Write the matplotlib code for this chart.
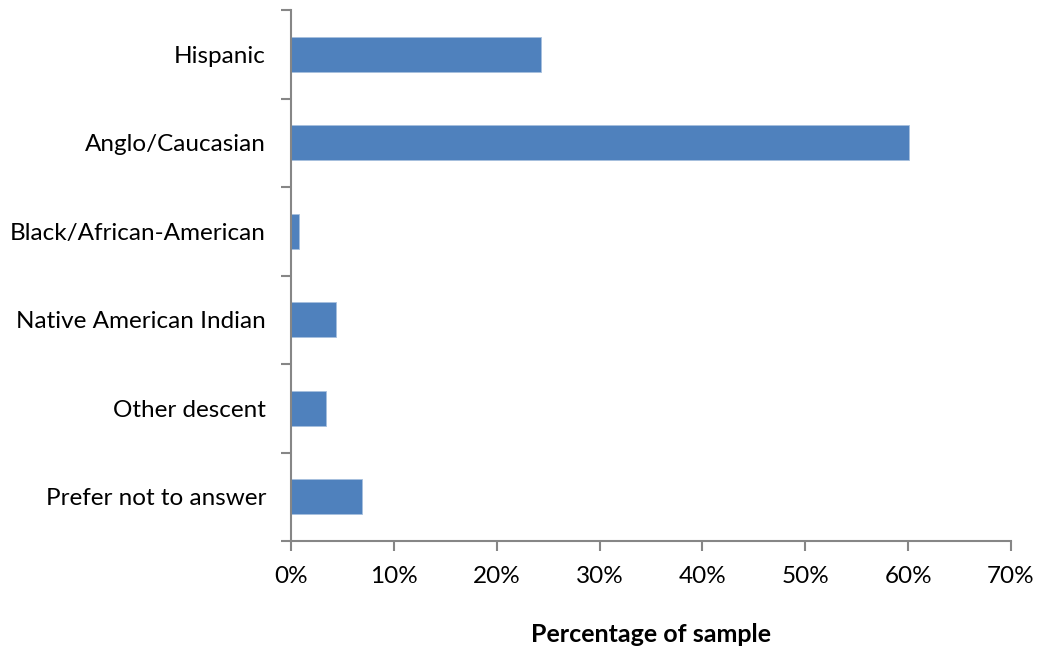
import matplotlib
matplotlib.use("Agg")
import matplotlib.pyplot as plt
from matplotlib.ticker import FixedLocator, PercentFormatter

categories = ["Hispanic", "Anglo/Caucasian", "Black/African-American",
              "Native American Indian", "Other descent", "Prefer not to answer"]
percent = [24.3, 60.1, 0.75, 4.35, 3.4, 6.95]
x_ticks = [0, 10, 20, 30, 40, 50, 60, 70]

bar_color = "#4F81BD"
axis_color = "#868686"

plt.rcParams["font.family"] = ["Lato", "DejaVu Sans"]

fig = plt.figure(figsize=(10.4, 6.5), dpi=100)
ax = fig.add_axes([291 / 1040, 1 - 541 / 650, 720 / 1040, 531 / 650])

pos = list(range(len(categories)))
ax.barh(pos, percent, height=0.4, color=bar_color, edgecolor="#A7C0DE", linewidth=0.6)

ax.set_ylim(len(categories) - 0.5, -0.5)
ax.set_xlim(0, 70)

ax.yaxis.set_major_locator(FixedLocator(pos))
ax.set_yticklabels(categories)
ax.tick_params(axis="y", which="major", length=0, pad=18, labelsize=17.5, labelcolor="black")
ax.yaxis.set_minor_locator(FixedLocator([p - 0.5 for p in pos] + [len(categories) - 0.5]))
ax.tick_params(axis="y", which="minor", length=7, width=1.5, color=axis_color, direction="out")

ax.xaxis.set_major_locator(FixedLocator(x_ticks))
ax.xaxis.set_major_formatter(PercentFormatter(decimals=0))
ax.tick_params(axis="x", which="major", length=7, width=1.5, color=axis_color,
               direction="out", labelsize=17.5, pad=11)

for side in ("top", "right"):
    ax.spines[side].set_visible(False)
for side in ("left", "bottom"):
    ax.spines[side].set_color(axis_color)
    ax.spines[side].set_linewidth(1.5)

ax.set_xlabel("Percentage of sample", fontsize=18, fontweight="bold", labelpad=26)

fig.savefig("out.png", dpi=100, facecolor="white")
